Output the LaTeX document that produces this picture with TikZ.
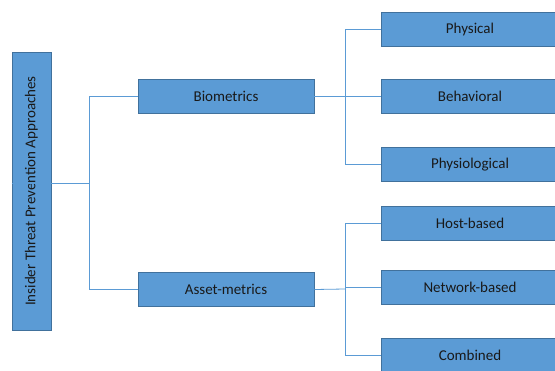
\documentclass[tikz,border=0pt]{standalone}
\usepackage{fontspec}
\setmainfont{Carlito}
\definecolor{boxblue}{HTML}{5B9BD5}
\definecolor{boxedge}{HTML}{41719C}
\tikzset{
  box/.style={draw=boxedge, fill=boxblue, line width=0.8pt, inner sep=0pt,
    minimum width=176pt, minimum height=34pt, font=\fontsize{15}{17}\selectfont, text=black!90},
  link/.style={draw=boxblue, line width=0.8pt}
}
\begin{document}
\begin{tikzpicture}[x=1pt,y=-1pt]
\useasboundingbox (0,0) rectangle (555,370);

\node[box, rotate=90, minimum width=278pt, minimum height=39pt] (root) at (31.5,191) {Insider Threat Prevention Approaches};

\node[box] (bio)   at (226,96)    {Biometrics};
\node[box] (asset) at (226,289.5) {Asset-metrics};

\node[box, minimum width=178pt] (phys)  at (470,29)    {Physical};
\node[box, minimum width=178pt] (behav) at (470,96.5)  {Behavioral};
\node[box, minimum width=178pt] (physio) at (470,164.5) {Physiological};
\node[box, minimum width=178pt] (host)  at (470,223.5) {Host-based};
\node[box, minimum width=178pt] (net)   at (470,287.5) {Network-based};
\node[box, minimum width=178pt] (comb)  at (470,355)   {Combined};

\coordinate (split1) at (89,183);
\coordinate (split2) at (345,96);
\coordinate (split3) at (345,289);

\draw[link] (root.north |- split1) -- (split1);
\draw[link] (split1) |- (bio.west);
\draw[link] (split1) |- (asset.west);

\draw[link] (bio.east) -- (split2);
\draw[link] (split2) |- (phys.west);
\draw[link] (split2) |- (behav.west);
\draw[link] (split2) |- (physio.west);

\draw[link] (asset.east) -- (split3);
\draw[link] (split3) |- (host.west);
\draw[link] (split3) |- (net.west);
\draw[link] (split3) |- (comb.west);

\end{tikzpicture}
\end{document}
